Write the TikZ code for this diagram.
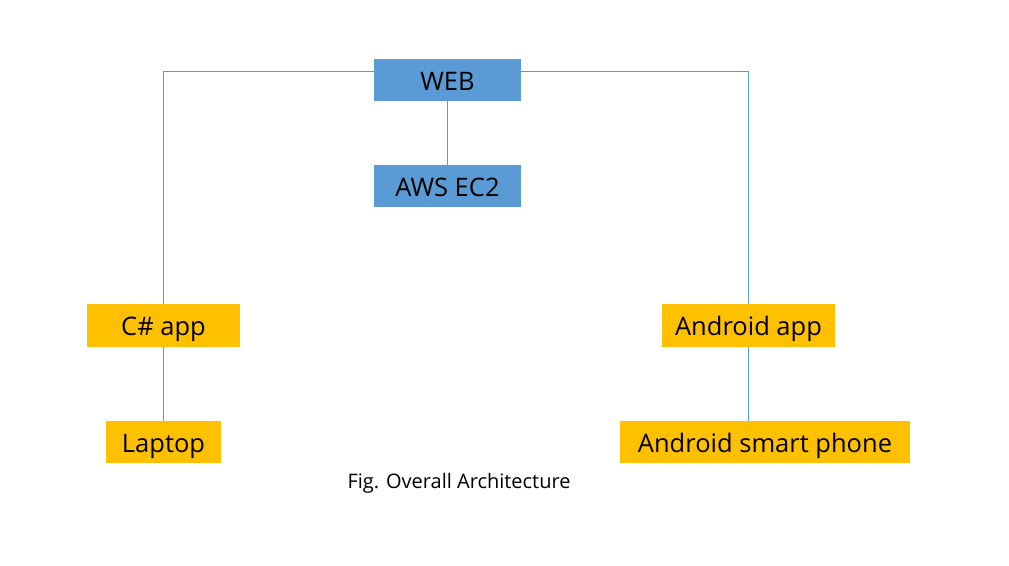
\documentclass[tikz,border=0pt]{standalone}
\usepackage{fontspec}
\setmainfont{Open Sans}
\definecolor{boxblue}{HTML}{5B9BD5}
\definecolor{boxorange}{HTML}{FFC000}
\definecolor{linkblue}{HTML}{5B9BD5}
\begin{document}
\begin{tikzpicture}[x=1pt,y=-1pt,
  boxbase/.style={draw=none, inner sep=0pt, font=\fontsize{25.5}{30}\selectfont, text=black, text height=22pt, text depth=2pt},
  bluebox/.style={boxbase, fill=boxblue},
  orangebox/.style={boxbase, fill=boxorange},
  link/.style={draw=linkblue, line width=0.9pt}]
\useasboundingbox[fill=white] (0,0) rectangle (1009,565);
\node[bluebox, minimum width=147pt, minimum height=42pt] (web) at (447.5,80) {WEB};
\node[bluebox, minimum width=147pt, minimum height=42pt] (ec2) at (447.5,186) {AWS EC2};
\node[orangebox, minimum width=153pt, minimum height=43pt] (csharp) at (163.5,325.5) {C\# app};
\node[orangebox, minimum width=115pt, minimum height=42pt] (laptop) at (163.5,442) {Laptop};
\node[orangebox, minimum width=173pt, minimum height=43pt] (andapp) at (748.5,325.5) {Android app};
\node[orangebox, minimum width=290pt, minimum height=42pt] (phone) at (765,442) {Android smart phone};
\node[font=\fontsize{20}{24}\selectfont, inner sep=0pt] (cap) at (459,483) {Fig. Overall Architecture};
\draw[link] ([yshift=9pt]web.west) -| (csharp.north);
\draw[link] ([yshift=9pt]web.east) -| (andapp.north);
\draw[link] (web.south) -- (ec2.north);
\draw[link] (csharp.south) -- (laptop.north);
\draw[link] (andapp.south) -- (andapp.south |- phone.north);
\end{tikzpicture}
\end{document}
